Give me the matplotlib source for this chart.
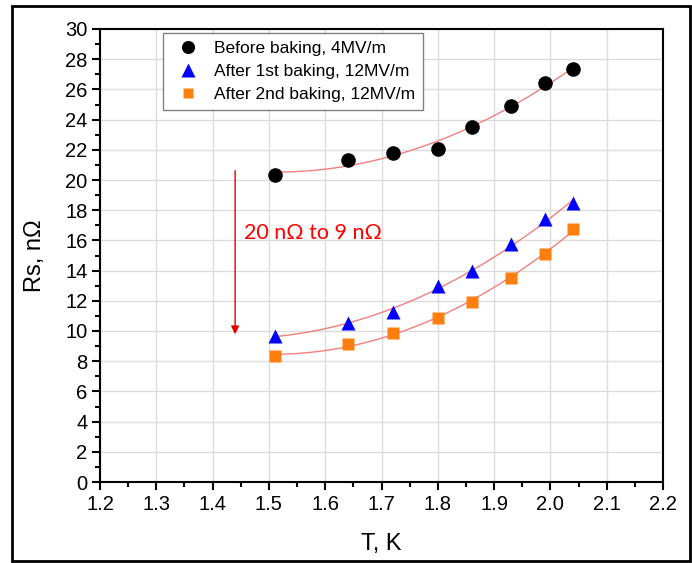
import numpy as np
import matplotlib
matplotlib.use('Agg')
import matplotlib.pyplot as plt
from matplotlib.ticker import MultipleLocator
from matplotlib.patches import Rectangle

plt.rcParams['font.family'] = ['Liberation Sans', 'DejaVu Sans']

# temperatures, K
T = [1.51, 1.64, 1.72, 1.80, 1.86, 1.93, 1.99, 2.04]
# surface resistance, nOhm
rs_before = [20.35, 21.3, 21.8, 22.05, 23.5, 24.9, 26.4, 27.35]
rs_1st = [9.7, 10.5, 11.25, 12.95, 13.95, 15.75, 17.4, 18.45]
rs_2nd = [8.35, 9.15, 9.85, 10.85, 11.95, 13.5, 15.1, 16.75]
labels = ['Before baking, 4MV/m', 'After 1st baking, 12MV/m', 'After 2nd baking, 12MV/m']

fig = plt.figure(figsize=(6.92, 5.63), dpi=100)
ax = fig.add_axes([100/692, 1-482/563, 563/692, 453/563])

# outer screenshot frame
fig.patches.append(Rectangle((12/692, 2/563), 678/692, 555/563, transform=fig.transFigure,
                             fill=False, ec='black', lw=2.0, zorder=0))

styles = [('o', 'black', 10.5), ('^', '#0000ff', 10.5), ('s', '#ff7f0e', 8.5)]
tt = np.linspace(T[0], T[-1], 100)
for ys, lab, (m, c, ms) in zip([rs_before, rs_1st, rs_2nd], labels, styles):
    p = np.polyfit(T, ys, 2)
    ax.plot(tt, np.polyval(p, tt), color='#f08080', lw=1, zorder=2)
    ax.plot(T, ys, m, color=c, ms=ms, label=lab, zorder=3, mec='none')

ax.annotate('', xy=(1.44, 9.6), xytext=(1.44, 20.8),
            arrowprops=dict(arrowstyle='-|>', color='#e00000', lw=1, mutation_scale=12))
ax.text(1.455, 16.5, '20 n\u03a9 to 9 n\u03a9', color='#ff0000', fontsize=15.5,
        family=['Lato', 'DejaVu Sans'], va='center', ha='left')

ax.set_xlim(1.2, 2.2)
ax.set_ylim(0, 30)
ax.xaxis.set_minor_locator(MultipleLocator(0.05))
ax.yaxis.set_major_locator(MultipleLocator(2))
ax.yaxis.set_minor_locator(MultipleLocator(1))
ax.set_xticks(np.arange(1.2, 2.21, 0.1))
ax.set_xticklabels(['%.1f' % v for v in np.arange(1.2, 2.21, 0.1)])
ax.grid(True, which='major', color='#dcdcdc', lw=1)
ax.set_axisbelow(True)
ax.tick_params(which='major', direction='out', length=6, width=1.5, labelsize=14.5, pad=3)
ax.tick_params(which='minor', direction='out', length=3.5, width=1.5)
for s in ax.spines.values():
    s.set_linewidth(1.5)

ax.set_xlabel('T, K', fontsize=17, labelpad=14)
ax.set_ylabel('Rs, n\u03a9', fontsize=17, labelpad=14)

leg = ax.legend(loc='upper left', bbox_to_anchor=(0.112, 0.991), borderaxespad=0, fontsize=12.5,
                fancybox=False, edgecolor='#808080', framealpha=1, borderpad=0.45,
                labelspacing=0.45, handletextpad=0.5, handlelength=2.0, markerscale=0.9)
leg.get_frame().set_linewidth(1)

fig.savefig('out.png', dpi=100)
